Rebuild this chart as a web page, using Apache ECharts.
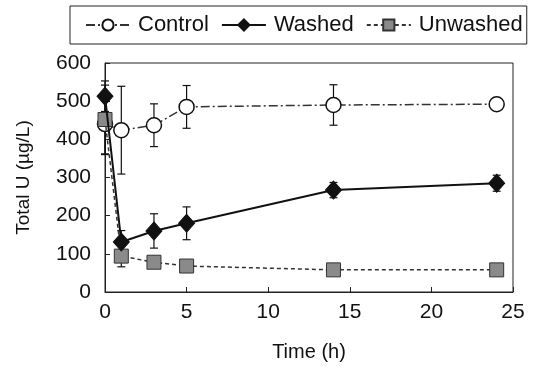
<!DOCTYPE html>
<html>
<head>
<meta charset="utf-8">
<script src="https://cdn.jsdelivr.net/npm/echarts@6/dist/echarts.min.js"></script>
<style>
  html, body { margin: 0; padding: 0; background: #fff; }
  #chart { width: 533px; height: 367px; }
</style>
</head>
<body>
<div id="chart"></div>
<script>
// Sampling times (h)
const time = [0, 1, 3, 5, 14, 24];

// Total U concentration (µg/L) and error (±) per treatment
const control = [440, 424, 437, 485, 490, 492];
const controlErr = [80, 115, 56, 56, 53, 0];
const washed = [513, 131, 160, 180, 267, 285];
const washedErr = [40, 30, 45, 43, 20, 21];
const unwashed = [452, 94, 78, 68, 58, 58];
const unwashedErr = [90, 28, 0, 0, 0, 0];

const seriesNames = ['Control', 'Washed', 'Unwashed'];
const yTicks = [0, 100, 200, 300, 400, 500, 600];
const xTicks = [0, 5, 10, 15, 20, 25];

const FONT = 'Liberation Sans, Arial, sans-serif';

function pairs(vals) {
  return time.map((t, i) => [t, vals[i]]);
}

function errData(vals, errs) {
  return time.map((t, i) => [t, vals[i] - errs[i], vals[i] + errs[i]]).filter((d, i) => errs[i] > 0);
}

function errorBarSeries(vals, errs, z) {
  return {
    type: 'custom',
    z: z,
    silent: true,
    data: errData(vals, errs),
    renderItem: function (params, api) {
      const x = api.value(0);
      const lo = api.coord([x, api.value(1)]);
      const hi = api.coord([x, api.value(2)]);
      const cap = 4;
      const style = { stroke: '#111', lineWidth: 1.2, fill: null };
      return {
        type: 'group',
        children: [
          { type: 'line', shape: { x1: lo[0], y1: lo[1], x2: hi[0], y2: hi[1] }, style: style },
          { type: 'line', shape: { x1: lo[0] - cap, y1: lo[1], x2: lo[0] + cap, y2: lo[1] }, style: style },
          { type: 'line', shape: { x1: hi[0] - cap, y1: hi[1], x2: hi[0] + cap, y2: hi[1] }, style: style }
        ]
      };
    }
  };
}

const chart = echarts.init(document.getElementById('chart'), null, { renderer: 'canvas' });

chart.setOption({
  animation: false,
  backgroundColor: '#fff',
  textStyle: { fontFamily: FONT, color: '#111' },
  legend: {
    data: seriesNames,
    left: 70,
    top: 6,
    orient: 'horizontal',
    width: 520,
    padding: [8, 4, 8, 15],
    borderColor: '#222',
    borderWidth: 1,
    itemWidth: 44,
    itemHeight: 14,
    itemGap: 12,
    textStyle: { fontFamily: FONT, fontSize: 22, color: '#111', padding: [0, 0, 0, 3] }
  },
  grid: {
    left: 105,
    right: 20,
    top: 63,
    bottom: 74,
    show: true,
    borderColor: '#222',
    borderWidth: 1
  },
  xAxis: {
    type: 'value',
    min: xTicks[0],
    max: xTicks[xTicks.length - 1],
    interval: 5,
    name: 'Time (h)',
    nameLocation: 'middle',
    nameGap: 50,
    nameTextStyle: { fontFamily: FONT, fontSize: 20, color: '#111' },
    axisLine: { lineStyle: { color: '#222', width: 1 } },
    axisTick: { inside: true, length: 5, lineStyle: { color: '#222' } },
    axisLabel: { fontFamily: FONT, fontSize: 21, color: '#111', margin: 10 },
    splitLine: { show: false }
  },
  yAxis: {
    type: 'value',
    min: yTicks[0],
    max: yTicks[yTicks.length - 1],
    interval: 100,
    name: 'Total U (µg/L)',
    nameLocation: 'middle',
    nameGap: 72,
    nameRotate: 90,
    nameTextStyle: { fontFamily: FONT, fontSize: 19, color: '#111' },
    axisLine: { show: true, lineStyle: { color: '#222', width: 1 } },
    axisTick: { show: true, inside: true, length: 5, lineStyle: { color: '#222' } },
    axisLabel: { fontFamily: FONT, fontSize: 21, color: '#111', margin: 14 },
    splitLine: { show: false }
  },
  series: [
    errorBarSeries(control, controlErr, 1),
    errorBarSeries(unwashed, unwashedErr, 1),
    errorBarSeries(washed, washedErr, 1),
    {
      name: 'Control',
      type: 'line',
      z: 2,
      data: pairs(control),
      symbol: 'circle',
      symbolSize: 15,
      lineStyle: { color: '#333', width: 1.5, type: [9, 3, 2, 3] },
      itemStyle: { color: '#fff', borderColor: '#111', borderWidth: 1.5 }
    },
    {
      name: 'Unwashed',
      type: 'line',
      z: 3,
      data: pairs(unwashed),
      symbol: 'rect',
      symbolSize: 14,
      lineStyle: { color: '#333', width: 1.5, type: [4, 3] },
      itemStyle: { color: '#8a8a8a', borderColor: '#333', borderWidth: 1 }
    },
    {
      name: 'Washed',
      type: 'line',
      z: 4,
      data: pairs(washed),
      symbol: 'diamond',
      symbolSize: [16, 18],
      lineStyle: { color: '#111', width: 2 },
      itemStyle: { color: '#111', borderColor: '#111', borderWidth: 1 }
    }
  ]
});
</script>
</body>
</html>
